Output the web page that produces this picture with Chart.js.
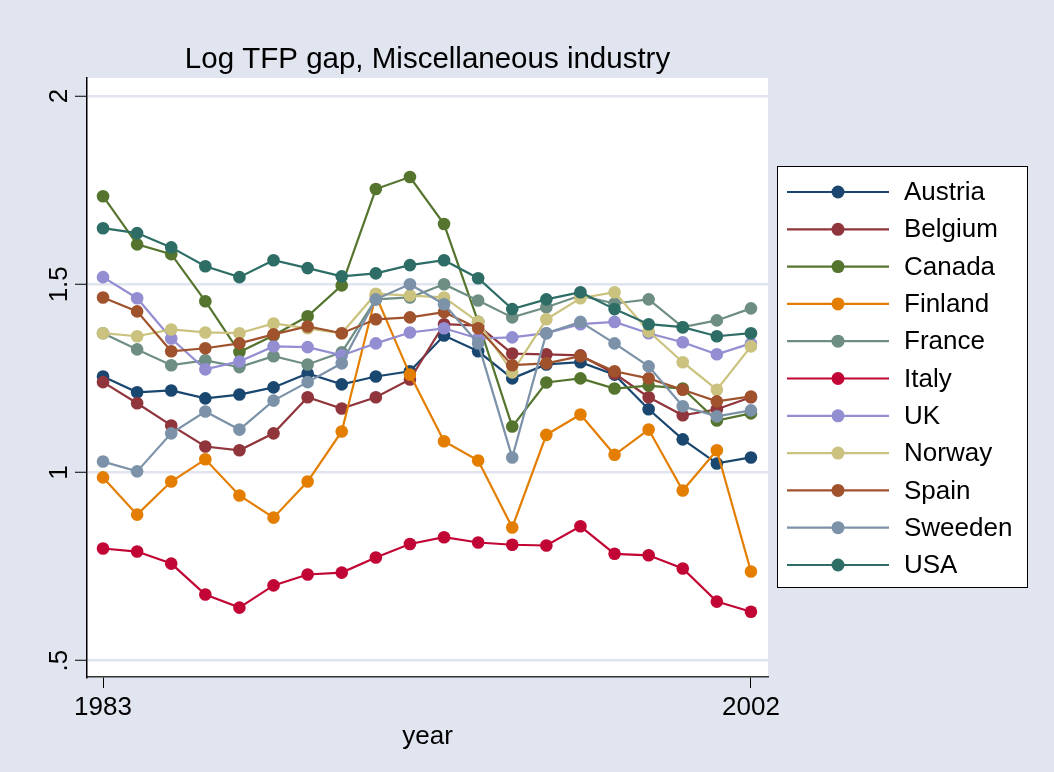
<!DOCTYPE html>
<html lang="en">
<head>
    <meta charset="UTF-8">
    <title>Log TFP gap, Miscellaneous industry</title>
    <script src="https://cdn.jsdelivr.net/npm/chart.js"></script>
    <style>
        html, body { margin: 0; padding: 0; background: #e1e5f0; }
        #wrap { width: 1054px; height: 772px; }
    </style>
</head>
<body>
    <div id="wrap"><canvas id="chart1" width="1054" height="772"></canvas></div>

    <script>
        // data
        const years = [1983, 1984, 1985, 1986, 1987, 1988, 1989, 1990, 1991, 1992,
                       1993, 1994, 1995, 1996, 1997, 1998, 1999, 2000, 2001, 2002];
        const xTicks = [1983, 2002];
        const yTicks = [0.5, 1, 1.5, 2];
        const yTickLabels = [".5", "1", "1.5", "2"];

        const austria = [1.255, 1.213, 1.218, 1.197, 1.207, 1.226, 1.263, 1.234, 1.255, 1.269,
                         1.364, 1.322, 1.25, 1.287, 1.293, 1.26, 1.168, 1.088, 1.024, 1.04];
        const belgium = [1.24, 1.184, 1.125, 1.069, 1.059, 1.104, 1.2, 1.17, 1.2, 1.247,
                         1.394, 1.39, 1.316, 1.314, 1.311, 1.263, 1.2, 1.152, 1.168, 1.2];
        const canada  = [1.734, 1.606, 1.58, 1.455, 1.32, 1.364, 1.415, 1.497, 1.753, 1.785,
                         1.66, 1.40, 1.122, 1.239, 1.25, 1.223, 1.231, 1.223, 1.138, 1.157];
        const finland = [0.987, 0.888, 0.976, 1.035, 0.939, 0.88, 0.976, 1.109, 1.47, 1.26,
                         1.083, 1.032, 0.854, 1.1, 1.154, 1.047, 1.114, 0.952, 1.059, 0.737];
        const france  = [1.37, 1.327, 1.285, 1.298, 1.28, 1.309, 1.287, 1.319, 1.46, 1.465,
                         1.5, 1.457, 1.412, 1.439, 1.47, 1.449, 1.46, 1.386, 1.404, 1.436];
        const italy   = [0.798, 0.79, 0.758, 0.676, 0.641, 0.7, 0.729, 0.734, 0.774, 0.81,
                         0.828, 0.814, 0.808, 0.806, 0.857, 0.784, 0.78, 0.745, 0.657, 0.63];
        const uk      = [1.519, 1.463, 1.356, 1.274, 1.295, 1.335, 1.333, 1.311, 1.343, 1.372,
                         1.383, 1.356, 1.359, 1.37, 1.394, 1.4, 1.37, 1.346, 1.314, 1.343];
        const norway  = [1.37, 1.362, 1.38, 1.372, 1.37, 1.396, 1.383, 1.37, 1.475, 1.47,
                         1.465, 1.4, 1.266, 1.407, 1.463, 1.479, 1.375, 1.293, 1.22, 1.335];
        const spain   = [1.465, 1.428, 1.322, 1.33, 1.343, 1.367, 1.388, 1.37, 1.407, 1.412,
                         1.426, 1.383, 1.285, 1.29, 1.309, 1.269, 1.25, 1.22, 1.189, 1.202];
        const sweeden = [1.029, 1.003, 1.104, 1.162, 1.114, 1.191, 1.24, 1.29, 1.46, 1.5,
                         1.447, 1.343, 1.04, 1.37, 1.4, 1.343, 1.282, 1.176, 1.149, 1.165];
        const usa     = [1.649, 1.636, 1.598, 1.548, 1.519, 1.564, 1.543, 1.521, 1.529, 1.551,
                         1.564, 1.516, 1.434, 1.46, 1.479, 1.434, 1.394, 1.386, 1.362, 1.37];

        const countries = ["Austria", "Belgium", "Canada", "Finland", "France", "Italy",
                           "UK", "Norway", "Spain", "Sweeden", "USA"];
        const seriesValues = [austria, belgium, canada, finland, france, italy,
                              uk, norway, spain, sweeden, usa];
        const colors = ["#1a476f", "#90353b", "#55752f", "#e37e00", "#6e8e84", "#c10534",
                        "#938dd2", "#cac27e", "#a0522d", "#7b92a8", "#2d6d66"];

        const FONT = "'Liberation Sans', Arial, Helvetica, sans-serif";

        const datasets = countries.map((name, i) => ({
            label: name,
            data: years.map((y, j) => ({ x: y, y: seriesValues[i][j] })),
            borderColor: colors[i],
            backgroundColor: colors[i],
            pointBackgroundColor: colors[i],
            pointBorderColor: colors[i],
            pointRadius: 6.3,
            pointBorderWidth: 0,
            borderWidth: 2.2,
            tension: 0,
            fill: false,
            order: countries.length - i   // later series drawn on top, like Stata
        }));

        // white plot region, title, rotated y labels and the boxed legend
        const decorations = {
            id: 'decorations',
            beforeDraw(chart) {
                const ctx = chart.ctx;
                const a = chart.chartArea;
                ctx.save();
                ctx.fillStyle = '#e1e5f0';
                ctx.fillRect(0, 0, chart.width, chart.height);
                ctx.fillStyle = '#ffffff';
                ctx.fillRect(a.left, a.top, a.right - a.left, a.bottom - a.top);
                ctx.restore();
            },
            afterDraw(chart) {
                const ctx = chart.ctx;
                const a = chart.chartArea;
                const ys = chart.scales.y;
                ctx.save();

                // title
                ctx.fillStyle = '#000';
                ctx.font = '29.5px ' + FONT;
                ctx.textAlign = 'center';
                ctx.textBaseline = 'middle';
                ctx.fillText('Log TFP gap, Miscellaneous industry', (a.left + a.right) / 2, 60);

                // y tick labels, rotated
                ctx.font = '26px ' + FONT;
                yTicks.forEach((v, i) => {
                    const py = ys.getPixelForValue(v);
                    ctx.save();
                    ctx.translate(60, py);
                    ctx.rotate(-Math.PI / 2);
                    ctx.fillText(yTickLabels[i], 0, 0);
                    ctx.restore();
                });

                // legend
                const bx = 777.5, by = 166.5, bw = 250, bh = 421;
                ctx.fillStyle = '#ffffff';
                ctx.fillRect(bx, by, bw, bh);
                ctx.strokeStyle = '#000';
                ctx.lineWidth = 1;
                ctx.strokeRect(bx, by, bw, bh);
                ctx.textAlign = 'left';
                chart.data.datasets.forEach((ds, i) => {
                    const ry = 192 + i * 37.3;
                    ctx.strokeStyle = ds.borderColor;
                    ctx.lineWidth = 2.2;
                    ctx.beginPath();
                    ctx.moveTo(787, ry);
                    ctx.lineTo(889, ry);
                    ctx.stroke();
                    ctx.fillStyle = ds.borderColor;
                    ctx.beginPath();
                    ctx.arc(838, ry, 6.5, 0, Math.PI * 2);
                    ctx.fill();
                    ctx.fillStyle = '#000';
                    ctx.fillText(ds.label, 904, ry + 1);
                });
                ctx.restore();
            }
        };

        new Chart(document.getElementById("chart1"), {
            type: "line",
            data: { datasets: datasets },
            options: {
                responsive: false,
                animation: false,
                layout: { padding: { top: 78, right: 286, left: 0, bottom: 0 } },
                plugins: {
                    legend: { display: false },
                    title: { display: false },
                    tooltip: { enabled: false }
                },
                scales: {
                    x: {
                        type: 'linear',
                        min: 1982.53,
                        max: 2002.5,
                        afterBuildTicks: (scale) => { scale.ticks = xTicks.map(v => ({ value: v })); },
                        afterFit: (scale) => { scale.height = 772 - 677; },
                        ticks: {
                            color: '#000',
                            font: { family: FONT, size: 26 },
                            maxRotation: 0,
                            padding: 4,
                            callback: (v) => String(v)
                        },
                        grid: {
                            drawOnChartArea: false,
                            tickLength: 11,
                            tickColor: '#000',
                            tickWidth: 1
                        },
                        border: { color: '#333', width: 1.5 },
                        title: {
                            display: true,
                            text: 'year',
                            color: '#000',
                            font: { family: FONT, size: 26 },
                            padding: { top: 0, bottom: 20 }
                        }
                    },
                    y: {
                        type: 'linear',
                        min: 0.4567,
                        max: 2.048,
                        afterBuildTicks: (scale) => { scale.ticks = yTicks.map(v => ({ value: v })); },
                        afterFit: (scale) => { scale.width = 87; },
                        ticks: { display: false },
                        grid: {
                            color: '#dfe4ee',
                            lineWidth: 2.5,
                            tickLength: 12,
                            tickColor: '#000',
                            tickWidth: 1
                        },
                        border: { color: '#000', width: 1.5 }
                    }
                }
            },
            plugins: [decorations]
        });
    </script>
</body>
</html>
